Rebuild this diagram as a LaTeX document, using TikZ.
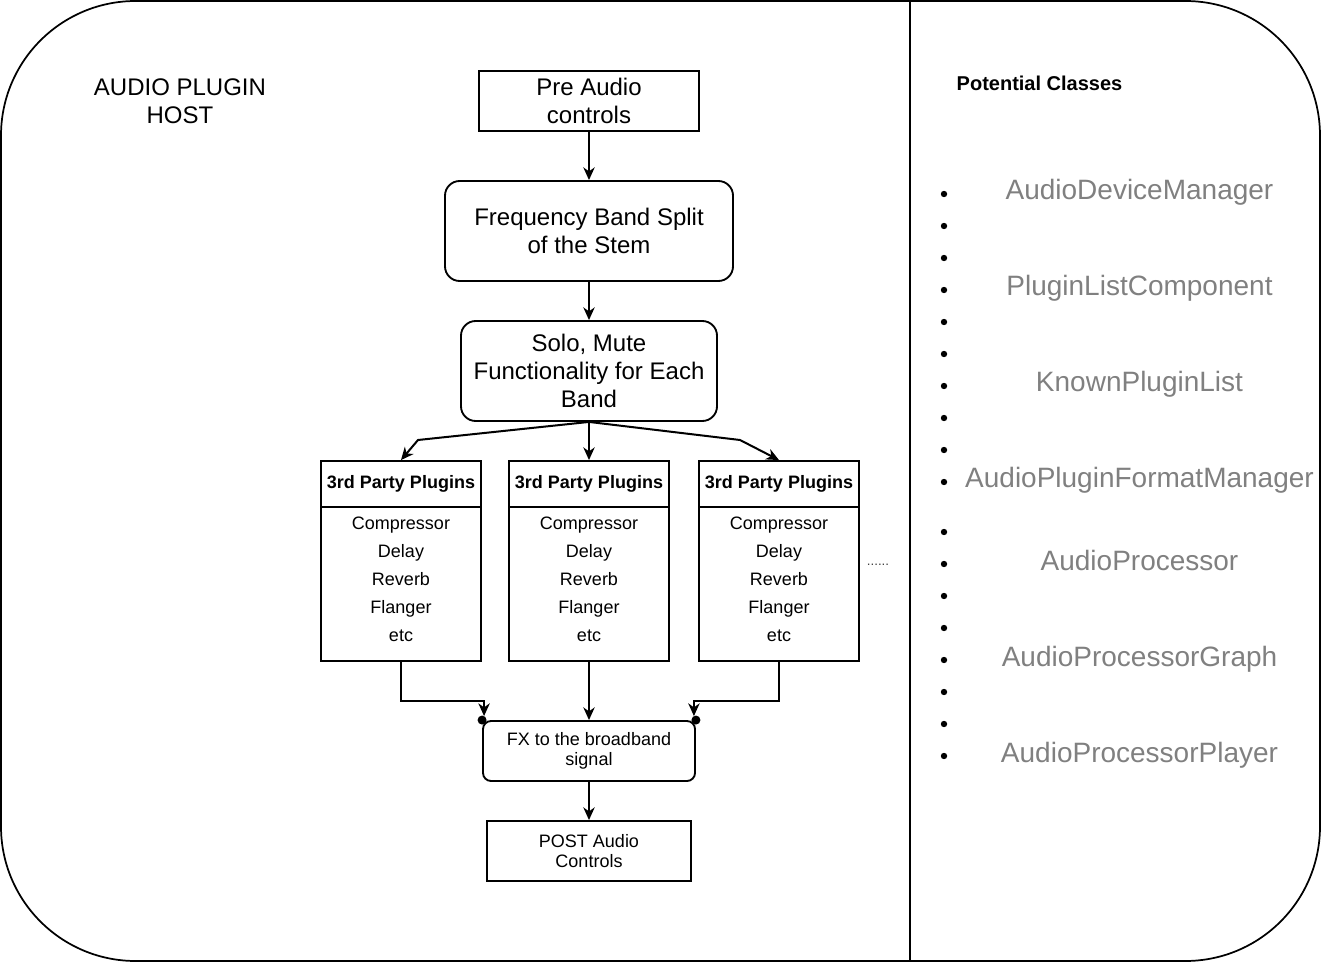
\documentclass[tikz,border=0pt]{standalone}
\usepackage{fontspec}
\setmainfont{Liberation Sans}
\usetikzlibrary{arrows.meta}

\definecolor{classgray}{RGB}{128,128,128}

\begin{document}
\begin{tikzpicture}[x=0.75pt,y=0.75pt,yscale=-1,xscale=1,
  every node/.style={inner sep=0.75pt},
  mainbox/.style={draw, line width=1.4pt, align=center, font=\fontsize{18}{21}\selectfont},
  roundbox/.style={mainbox, rounded corners=11pt},
  plughead/.style={draw, line width=1.4pt, minimum width=160*0.75pt, minimum height=46*0.75pt, font=\bfseries\fontsize{13.5}{15}\selectfont},
  plugbody/.style={draw, line width=1.4pt, minimum width=160*0.75pt, minimum height=154*0.75pt, align=center, text depth=7pt, font=\fontsize{13.5}{21}\selectfont},
  smallbox/.style={draw, line width=1.4pt, align=center, font=\fontsize{13.5}{15}\selectfont},
  flow/.style={line width=1.5pt, -{Stealth[length=9.5pt,width=8.5pt,inset=3pt]}},
  classname/.style={text=classgray, anchor=base, font=\fontsize{21}{25}\selectfont}
]
\path[use as bounding box] (0,0) rectangle (1322,966);

%Shape: Frame
\draw[line width=1.3pt, rounded corners=101pt] (1,1) rectangle (1320,961);
%Straight Lines
\draw[line width=1.3pt] (910,1) -- (910,961);

% Text Node
\node[font=\fontsize{18}{21}\selectfont, align=center] (hosttitle) at (180,101) {AUDIO PLUGIN\\HOST};

%Flowchart boxes
\node[mainbox, minimum width=220*0.75pt, minimum height=60*0.75pt] (pre) at (589,101) {Pre Audio\\controls};
\node[roundbox, minimum width=288*0.75pt, minimum height=100*0.75pt] (freq) at (589,231) {Frequency Band Split\\of the Stem};
\node[roundbox, minimum width=256*0.75pt, minimum height=100*0.75pt] (solo) at (589,371) {Solo, Mute\\Functionality for Each\\Band};

%Plugin chains
\foreach \cx/\nm in {401/a,589/b,779/c}{
  \node[plughead] (head\nm) at (\cx,484) {3rd Party Plugins};
  \node[plugbody] (body\nm) at (\cx,584) {Compressor\\Delay\\Reverb\\Flanger\\etc};
}
\node[font=\fontsize{10}{12}\selectfont, text=black!75] (more) at (878,565) {......};

\node[smallbox, rounded corners=6pt, minimum width=212*0.75pt, minimum height=60*0.75pt] (fx) at (589,751) {FX to the broadband\\signal};
\node[smallbox, minimum width=204*0.75pt, minimum height=60*0.75pt] (post) at (589,851) {POST Audio\\Controls};

%Arrows
\coordinate (bendl) at (418,440);
\coordinate (bendr) at (740,440);
\draw[flow] (pre) -- (freq);
\draw[flow] (freq) -- (solo);
\draw[flow] (solo.south) -- (bendl) -- (heada.north);
\draw[flow] (solo) -- (headb);
\draw[flow] (solo.south) -- (bendr) -- (headc.north);
\draw[flow, shorten >=3pt] (bodya.south) -- ++(0,39) -| ([xshift=1.5pt]fx.north west);
\draw[flow] (bodyb) -- (fx);
\draw[flow, shorten >=3pt] (bodyc.south) -- ++(0,39) -| ([xshift=-1.5pt]fx.north east);
\fill (fx.north west) circle (4.5);
\fill (fx.north east) circle (4.5);
\draw[flow] (fx) -- (post);

%Potential classes
\node[font=\bfseries\fontsize{15}{18}\selectfont] (classtitle) at (1039.5,83) {Potential Classes};
\foreach \y in {194,226,...,482} \fill (944,\y) circle (3.2);
\foreach \y in {532,564,...,756} \fill (944,\y) circle (3.2);
\foreach \y/\cls in {200/AudioDeviceManager,296/PluginListComponent,392/KnownPluginList,488/AudioPluginFormatManager,570/AudioProcessor,666/AudioProcessorGraph,762/AudioProcessorPlayer}
  \node[classname] (class\y) at (1139.5,\y) {\cls};

\end{tikzpicture}
\end{document}
